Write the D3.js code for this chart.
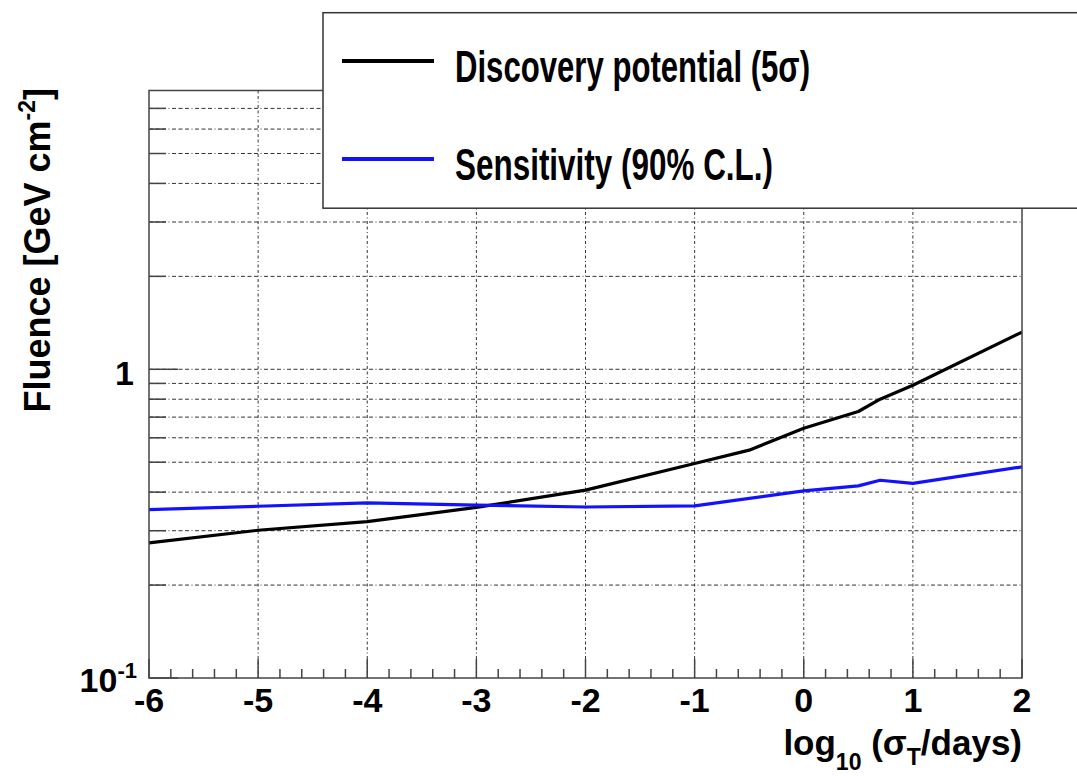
<!DOCTYPE html>
<html>
<head>
<meta charset="utf-8">
<script src="https://cdn.jsdelivr.net/npm/d3@7"></script>
<style>
  html, body { margin: 0; padding: 0; background: #fff; }
  svg { display: block; font-family: "Liberation Sans", Arial, Helvetica, sans-serif; font-weight: bold; }
</style>
</head>
<body>
<svg id="chart" width="1077" height="776"></svg>
<script>
// ---- data ----
const discoveryX = [-6, -5, -4, -3, -2, -1, -0.5, 0, 0.5, 0.7, 1, 2];
const discoveryY = [0.274, 0.301, 0.321, 0.357, 0.406, 0.495, 0.547, 0.644, 0.73, 0.80, 0.888, 1.32];
const sensitivityX = [-6, -5, -4, -3, -2, -1, 0, 0.5, 0.7, 1, 2];
const sensitivityY = [0.351, 0.360, 0.369, 0.363, 0.358, 0.361, 0.404, 0.419, 0.437, 0.427, 0.483];
const xMajorTicks = [-6, -5, -4, -3, -2, -1, 0, 1, 2];
const xTickLabels = ["-6", "-5", "-4", "-3", "-2", "-1", "0", "1", "2"];
const yMinorTicks = [0.2, 0.3, 0.4, 0.5, 0.6, 0.7, 0.8, 0.9, 2, 3, 4, 5, 6, 7];
const yMajorTicks = [0.1, 1];
const yTickBase = ["10", "1"];
const yTickExp = ["-1", ""];
const legendLabels = ["Discovery potential (5\u03c3)", "Sensitivity (90% C.L.)"];
const seriesColors = ["#000000", "#1212ff"];

// ---- layout ----
const L = 149, R = 1022, T = 90.5, B = 678;
const x = d3.scaleLinear().domain([-6, 2]).range([L, R]);
const y = d3.scaleLog().domain([0.1, 8]).range([B, T]);

const svg = d3.select("#chart");
const frameColor = "#444";
const gridDash = "4,2.5,4,2.5,4,2.5,1,2.5";

// grid lines
const grid = svg.append("g");
grid.selectAll("line.hy").data(yMinorTicks.concat([1])).join("line")
  .attr("x1", L).attr("x2", R)
  .attr("y1", d => y(d)).attr("y2", d => y(d))
  .attr("stroke", "#333").attr("stroke-width", 1).attr("stroke-dasharray", gridDash);
grid.selectAll("line.vx").data(xMajorTicks.slice(1, -1)).join("line")
  .attr("x1", d => x(d)).attr("x2", d => x(d))
  .attr("y1", T).attr("y2", B)
  .attr("stroke", "#333").attr("stroke-width", 1).attr("stroke-dasharray", "3,2.5,3,2.5,1,2.5");

// x ticks (major + minor)
const xMinor = [];
for (let i = 0; i < xMajorTicks.length - 1; i++) {
  for (let k = 1; k < 5; k++) xMinor.push(xMajorTicks[i] + k * 0.2);
}
svg.append("g").selectAll("line").data(xMinor).join("line")
  .attr("x1", d => x(d)).attr("x2", d => x(d))
  .attr("y1", B).attr("y2", B - 9)
  .attr("stroke", frameColor).attr("stroke-width", 1.5);
svg.append("g").selectAll("line").data(xMajorTicks).join("line")
  .attr("x1", d => x(d)).attr("x2", d => x(d))
  .attr("y1", B).attr("y2", B - 19)
  .attr("stroke", frameColor).attr("stroke-width", 1.5);

// y ticks
svg.append("g").selectAll("line").data(yMinorTicks).join("line")
  .attr("x1", L).attr("x2", L + 17)
  .attr("y1", d => y(d)).attr("y2", d => y(d))
  .attr("stroke", frameColor).attr("stroke-width", 1.5);
svg.append("g").selectAll("line").data(yMajorTicks).join("line")
  .attr("x1", L).attr("x2", L + 29)
  .attr("y1", d => y(d)).attr("y2", d => y(d))
  .attr("stroke", frameColor).attr("stroke-width", 1.5);

// curves
const line = d3.line().x(d => x(d[0])).y(d => y(d[1]));
const series = [
  d3.zip(discoveryX, discoveryY),
  d3.zip(sensitivityX, sensitivityY)
];
svg.append("g").selectAll("path").data(series).join("path")
  .attr("d", line)
  .attr("fill", "none")
  .attr("stroke", (d, i) => seriesColors[i])
  .attr("stroke-width", 3.2)
  .attr("stroke-linejoin", "round");

// frame
svg.append("rect")
  .attr("x", L).attr("y", T).attr("width", R - L).attr("height", B - T)
  .attr("fill", "none").attr("stroke", frameColor).attr("stroke-width", 1.5);

// x tick labels
svg.append("g").selectAll("text").data(xMajorTicks).join("text")
  .attr("x", d => x(d)).attr("y", 712)
  .attr("text-anchor", "middle")
  .attr("font-size", 34)
  .text((d, i) => xTickLabels[i]);

// y tick labels
const yl = svg.append("g").selectAll("text").data(yMajorTicks).join("text")
  .attr("x", (d, i) => i === 0 ? 137 : 134)
  .attr("y", d => y(d) + (d === 0.1 ? 14 : 16))
  .attr("text-anchor", "end")
  .attr("font-size", 34);
yl.append("tspan").text((d, i) => yTickBase[i]);
yl.filter((d, i) => yTickExp[i] !== "").append("tspan")
  .attr("dy", -14).attr("font-size", 22)
  .text((d, i) => yTickExp[yMajorTicks.indexOf(d)]);

// x axis title
const xt = svg.append("text")
  .attr("x", 1022).attr("y", 755)
  .attr("text-anchor", "end")
  .attr("font-size", 35);
xt.append("tspan").text("log");
xt.append("tspan").attr("font-size", 23).attr("dy", 15).text("10");
xt.append("tspan").attr("dy", -15).text(" (\u03c3");
xt.append("tspan").attr("font-size", 23).attr("dy", 10).text("T");
xt.append("tspan").attr("dy", -10).text("/days)");

// y axis title
const yt = svg.append("text")
  .attr("transform", "translate(50,88) rotate(-90)")
  .attr("x", 0).attr("y", 0)
  .attr("text-anchor", "end")
  .attr("font-size", 36);
yt.append("tspan").text("Fluence [GeV cm");
yt.append("tspan").attr("font-size", 23).attr("dy", -15).text("-2");
yt.append("tspan").attr("dy", 15).text("]");

// legend
const lg = svg.append("g");
lg.append("rect")
  .attr("x", 323).attr("y", 12.7).attr("width", 800).attr("height", 195.5)
  .attr("fill", "#fff").attr("stroke", "#333").attr("stroke-width", 1.5);
const legendYs = [61, 159];
const legendBase = [82, 180];
const legendLens = [355, 318];
legendLabels.forEach((lab, i) => {
  lg.append("line")
    .attr("x1", 342).attr("x2", 434)
    .attr("y1", legendYs[i]).attr("y2", legendYs[i])
    .attr("stroke", seriesColors[i]).attr("stroke-width", 4);
  lg.append("text")
    .attr("x", 455).attr("y", legendBase[i])
    .attr("font-size", 45)
    .attr("textLength", legendLens[i])
    .attr("lengthAdjust", "spacingAndGlyphs")
    .text(lab);
});
</script>
</body>
</html>
